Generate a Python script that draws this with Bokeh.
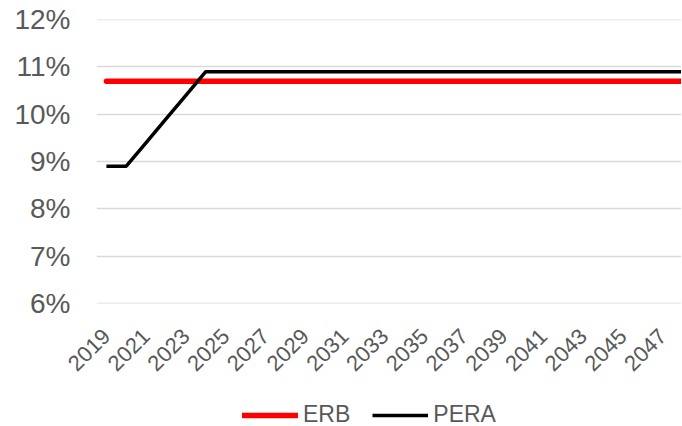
from math import pi
from bokeh.plotting import figure
from bokeh.layouts import column
from bokeh.models import Range1d, Legend, LegendItem, FixedTicker
from bokeh.embed import file_html
from bokeh.resources import INLINE

years = [2019, 2020, 2021, 2022, 2023, 2024, 2025, 2026, 2027, 2028,
         2029, 2030, 2031, 2032, 2033, 2034, 2035, 2036, 2037, 2038,
         2039, 2040, 2041, 2042, 2043, 2044, 2045, 2046, 2047, 2048]
erb = [10.7, 10.7, 10.7, 10.7, 10.7, 10.7, 10.7, 10.7, 10.7, 10.7,
       10.7, 10.7, 10.7, 10.7, 10.7, 10.7, 10.7, 10.7, 10.7, 10.7,
       10.7, 10.7, 10.7, 10.7, 10.7, 10.7, 10.7, 10.7, 10.7, 10.7]
pera = [8.9, 8.9, 9.4, 9.9, 10.4, 10.9, 10.9, 10.9, 10.9, 10.9,
        10.9, 10.9, 10.9, 10.9, 10.9, 10.9, 10.9, 10.9, 10.9, 10.9,
        10.9, 10.9, 10.9, 10.9, 10.9, 10.9, 10.9, 10.9, 10.9, 10.9]
y_ticks = [6, 7, 8, 9, 10, 11, 12]
y_tick_labels = ["6%", "7%", "8%", "9%", "10%", "11%", "12%"]
x_ticks = [2019, 2021, 2023, 2025, 2027, 2029, 2031, 2033, 2035, 2037,
           2039, 2041, 2043, 2045, 2047]
x_tick_labels = [str(t) for t in x_ticks]

FONT = "Liberation Sans"
GRAY = "#595959"
RED = "#ff0000"
BLACK = "#000000"

p = figure(frame_width=585, frame_height=284, output_backend="svg", toolbar_location=None,
           x_range=Range1d(2018.5, 2047.95), y_range=Range1d(5.995, 12.005),
           min_border_left=96, min_border_right=0, min_border_top=19,
           min_border_bottom=0)
p.outline_line_color = None
p.background_fill_color = "white"
p.border_fill_color = "white"

p.line(years, erb, line_color=RED, line_width=5.5, line_cap="round")
p.line(years, pera, line_color=BLACK, line_width=3.5, line_cap="butt")

p.yaxis.ticker = FixedTicker(ticks=y_ticks)
p.yaxis.major_label_overrides = dict(zip(y_ticks, y_tick_labels))
p.xaxis.ticker = FixedTicker(ticks=x_ticks)
p.xaxis.major_label_overrides = dict(zip(x_ticks, x_tick_labels))
p.xaxis.major_label_orientation = pi / 4

for ax in (p.xaxis, p.yaxis):
    ax.axis_line_color = None
    ax.major_tick_line_color = None
    ax.minor_tick_line_color = None
    ax.major_label_text_font = FONT
    ax.major_label_text_color = GRAY
p.yaxis.major_label_text_font_size = "28px"
p.yaxis.major_label_standoff = 20
p.xaxis.major_label_text_font_size = "22px"
p.xaxis.major_label_standoff = 23

p.xgrid.grid_line_color = None
p.ygrid.grid_line_color = "#d9d9d9"
p.ygrid.grid_line_width = 1.3

# legend strip: same series drawn outside its visible range, only the legend shows
lg = figure(width=681, height=51, output_backend="svg", toolbar_location=None,
            x_range=Range1d(0, 1), y_range=Range1d(0, 1),
            x_axis_location=None, y_axis_location=None,
            min_border=0)
lg.outline_line_color = None
lg.xgrid.visible = False
lg.ygrid.visible = False
l1 = lg.line(years, erb, line_color=RED, line_width=5.5, line_cap="round")
l2 = lg.line(years, pera, line_color=BLACK, line_width=3.5, line_cap="butt")
legend = Legend(items=[LegendItem(label="ERB", renderers=[l1]),
                       LegendItem(label="PERA", renderers=[l2])],
                orientation="horizontal", location=(146, 3),
                label_text_font=FONT, label_text_font_size="23px",
                label_text_color=GRAY, glyph_width=56, glyph_height=20,
                label_standoff=5, spacing=22, padding=0, margin=0,
                border_line_color=None, background_fill_alpha=0)
lg.add_layout(legend, "center")

layout = column(p, lg, spacing=0)
open("out.html", "w").write(file_html(layout, INLINE))
